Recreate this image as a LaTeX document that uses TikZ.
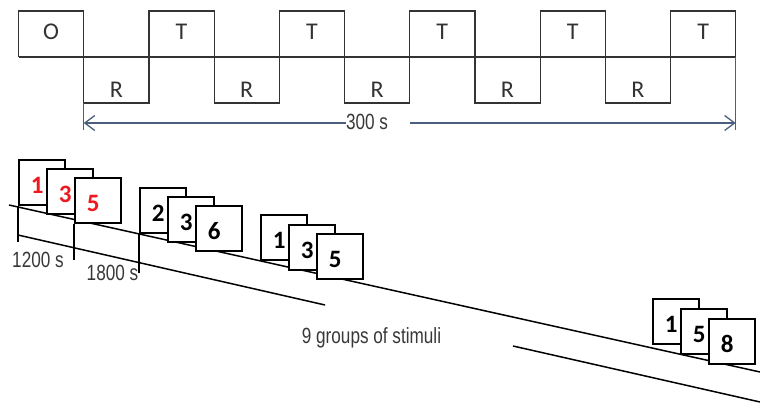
\documentclass[tikz,border=0pt]{standalone}
\usepackage{fontspec}
\usetikzlibrary{arrows.meta,calc}
\newfontfamily\arialn[FakeStretch=0.78]{Liberation Sans}
\newfontfamily\calib{Carlito}
\definecolor{wave}{HTML}{333333}
\definecolor{axis}{HTML}{4A5F7E}
\definecolor{txtgray}{HTML}{383838}
\definecolor{numred}{HTML}{F01820}
\tikzset{
  wavelab/.style={font=\calib\fontsize{24}{26}\selectfont, text=wave, inner sep=0pt},
  smalltxt/.style={font=\arialn\fontsize{22}{24}\selectfont, text=txtgray, inner sep=0pt},
  card/.style={draw=black, line width=2.4pt, fill=white, minimum width=46pt, minimum height=45pt, inner sep=0pt, anchor=north west},
  num/.style={font=\calib\bfseries\fontsize{25}{27}\selectfont, inner sep=0pt},
  ground/.style={draw=black, line width=1.5pt},
  tick/.style={draw=black, line width=1.3pt},
}
\newcommand\stimcard[4]{%
  \node[card] (#1) at (#2) {};
  \node[num, text=#4] (#1n) at ([shift={(-5,2.5)}]#1.center) {#3};
}
\begin{document}
\begin{tikzpicture}[x=1pt,y=-1pt]
\useasboundingbox (0,0) rectangle (760,411);
% ---- timing waveform ----
\foreach \k [evaluate=\k as \xx using 18.5+65.2*\k] in {0,...,11} {
  \coordinate (w\k) at (\xx,57);
}
\draw[wave, line width=1.2pt] (w0) -- (w11);
\draw[wave, line width=1.2pt]
  (w0) -- ++(0,-46) -| (w1) -- ++(0,46) -| (w2)
  -- ++(0,-46) -| (w3) -- ++(0,46) -| (w4)
  -- ++(0,-46) -| (w5) -- ++(0,46) -| (w6)
  -- ++(0,-46) -| (w7) -- ++(0,46) -| (w8)
  -- ++(0,-46) -| (w9) -- ++(0,46) -| (w10)
  -- ++(0,-46) -| (w11);
% labels
\node[wavelab] (lo) at ($(w0)!0.5!(w1)+(0,-25)$) {O};
\foreach \a/\b in {2/3,4/5,6/7,8/9,10/11}{
  \node[wavelab] (lt\a) at ($(w\a)!0.5!(w\b)+(0,-25)$) {T};
}
\foreach \a/\b in {1/2,3/4,5/6,7/8,9/10}{
  \node[wavelab] (lr\a) at ($(w\a)!0.5!(w\b)+(0,33)$) {R};
}
% 300 s arrow
\coordinate (al) at ($(w1)+(0,66)$);
\coordinate (ar) at ($(w11)+(0,66)$);
\draw[axis, line width=1.2pt] ($(w1)+(0,46)$) -- ($(w1)+(0,73)$);
\draw[axis, line width=1.2pt] (w11) -- ($(w11)+(0,73)$);
\node[smalltxt] (t300) at (367,122) {300 s};
\coordinate (ar0) at (410,123);
\draw[axis, line width=1.3pt, {Straight Barb[length=10pt,width=15pt]}-] (al) -- (t300.west |- al);
\draw[axis, line width=1.3pt, -{Straight Barb[length=10pt,width=15pt]}] (ar0 |- ar) -- (ar);
% ---- stimulus timeline ----
\coordinate (m0) at (9,205);
\coordinate (m1) at (760,372);
\coordinate (l0) at (18,235);
\coordinate (l1) at (325,305);
\coordinate (l2) at (513,346);
\coordinate (l3) at (760,402);
\draw[ground] (m0) -- (m1);
\draw[ground] (l0) -- (l1);
\draw[ground] (l2) -- (l3);
% group 1
\stimcard{a1}{18,159}{1}{numred}
\stimcard{a2}{46,168}{3}{numred}
\stimcard{a3}{74,177}{5}{numred}
% group 2
\stimcard{b1}{139,187}{2}{black}
\stimcard{b2}{167,196}{3}{black}
\stimcard{b3}{195,205}{6}{black}
% group 3
\stimcard{c1}{260,214}{1}{black}
\stimcard{c2}{288,224}{3}{black}
\stimcard{c3}{316,233}{5}{black}
% group 4
\stimcard{d1}{652,298}{1}{black}
\stimcard{d2}{680,308}{5}{black}
\stimcard{d3}{708,318}{8}{black}
% ticks
\coordinate (k1) at (18,242);
\coordinate (k2) at (74,260);
\coordinate (k3) at (139,273);
\draw[tick] (a1.south west) -- (k1);
\draw[tick] (a3.south west) -- (k2);
\draw[tick] (b1.south west) -- (k3);
\node[smalltxt] (t1200) at (38,260) {1200 s};
\node[smalltxt] (t1800) at (112.5,272.5) {1800 s};
\node[smalltxt] (tgrp) at (371.5,338) {9 groups of stimuli};
\end{tikzpicture}
\end{document}
